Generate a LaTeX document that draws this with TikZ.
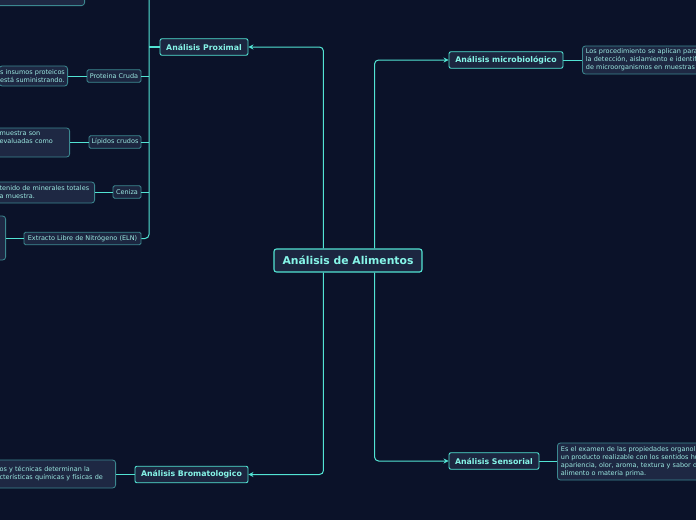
\documentclass[tikz,border=0pt]{standalone}
\usepackage{fontspec}
\setmainfont{DejaVu Sans}
\usetikzlibrary{arrows.meta,calc}
\definecolor{bg}{HTML}{0B1229}
\definecolor{boxfill}{HTML}{1C2640}
\definecolor{descfill}{HTML}{1E2843}
\definecolor{line}{HTML}{52E3D3}
\definecolor{dborder}{HTML}{3C8890}
\definecolor{ttext}{HTML}{86F5E8}
\definecolor{stext}{HTML}{9CE9E2}
\tikzset{
  maintitle/.style={draw=line, line width=1.1pt, fill=boxfill, rounded corners=2.5pt, text=ttext,
    font=\bfseries\fontsize{10.8}{12}\selectfont, minimum height=23pt, inner xsep=3pt, inner ysep=0pt},
  title/.style={draw=line, line width=0.9pt, fill=boxfill, rounded corners=2pt, text=ttext,
    font=\bfseries\fontsize{7.8}{9}\selectfont, minimum height=16.5pt, inner xsep=2pt, inner ysep=0pt},
  small/.style={draw=dborder, line width=0.8pt, fill=boxfill, rounded corners=1.5pt, text=stext,
    font=\fontsize{6.5}{7.5}\selectfont, minimum height=12.5pt, inner xsep=1.5pt, inner ysep=0pt},
  desc/.style={draw=dborder, line width=0.8pt, fill=descfill, rounded corners=3pt, text=stext,
    font=\fontsize{6.5}{8}\selectfont, align=left, inner xsep=3.5pt, inner ysep=2pt},
  conn/.style={draw=line, line width=1pt, rounded corners=4pt},
  arr/.style={conn, -{Stealth[length=5pt,width=5pt]}},
}
\begin{document}
\begin{tikzpicture}[x=1pt,y=-1pt]
\fill[bg] (0,0) rectangle (696,520);
\useasboundingbox (0,0) rectangle (696,520);
\clip (0,0) rectangle (696,520);

% main nodes
\node[maintitle, minimum width=148pt] (root) at (348,260.5) {Análisis de Alimentos};
\node[title, minimum width=88pt] (prox) at (204,47) {Análisis Proximal};
\node[title, minimum width=114pt] (micro) at (506,60) {Análisis microbiológico};
\node[title, minimum width=90pt] (sens) at (494,461) {Análisis Sensorial};
\node[title, minimum width=113pt] (brom) at (191.5,474.5) {Análisis Bromatologico};

% proximal children
\node[small, minimum width=54pt] (prot) at (114,76) {Proteina Cruda};
\node[small, minimum width=52pt] (lip) at (115,142) {Lípidos crudos};
\node[small, minimum width=28pt] (cen) at (127,192) {Ceniza};
\node[small, minimum width=117pt] (eln) at (82.5,238.5) {Extracto Libre de Nitrógeno (ELN)};
\coordinate (busTop) at (149,-10);

% descriptions
\node[desc, anchor=south east, minimum width=110pt, minimum height=20pt] (dtop) at (85,6) {};
\node[desc, anchor=east, text width=66.5pt, inner xsep=1pt, minimum height=20pt] (dprot) at (68,76) {s insumos proteicos\\ está suministrando.};
\node[desc, anchor=east, text width=66.5pt, minimum height=29pt] (dlip) at (70,142.5) {muestra son\\ evaluadas como\\ \strut};
\node[desc, anchor=east, text width=91.5pt, minimum height=21pt] (dcen) at (95,192.5) {tenido de minerales totales\\ a muestra.};
\node[desc, anchor=east, minimum width=30pt, minimum height=44pt] (deln) at (6,238) {};
\node[desc, anchor=east, text width=112.5pt, minimum height=28pt] (dbrom) at (116,474) {os y técnicas determinan la\\ cterísticas químicas y físicas de};
\node[desc, anchor=west, text width=160pt, minimum height=28pt] (dmicro) at (582,60) {Los procedimiento se aplican para\\ la detección, aislamiento e identifi\\ de microorganismos en muestras};
\node[desc, anchor=west, text width=170pt, minimum height=37pt] (dsens) at (557,461.5) {Es el examen de las propiedades organol\\ un producto realizable con los sentidos hu\\ apariencia, olor, aroma, textura y sabor d\\ alimento o materia prima.};

% connectors from root
\draw[arr] ($(root.north west)+(50,0)$) |- (prox.east);
\draw[arr] ($(root.south west)+(50,0)$) |- (brom.east);
\draw[arr] ($(root.north east)+(-48,0)$) |- (micro.west);
\draw[arr] ($(root.south east)+(-48,0)$) |- (sens.west);

% proximal bus
\draw[conn] (busTop) |- (eln.east);
\draw[conn, line width=1.3pt] (prox.west) -- (prox.west -| busTop);
\draw[conn] (prot.east) -- (prot.east -| busTop);
\draw[conn] (lip.east) -- (lip.east -| busTop);
\draw[conn] (cen.east) -- (cen.east -| busTop);

% child to description
\draw[conn] (prot.west) -- (dprot.east);
\draw[conn] (lip.west) -- (lip.west -| dlip.east);
\draw[conn] (cen.west) -- (cen.west -| dcen.east);
\draw[conn] (eln.west) -- (eln.west -| deln.east);
\draw[conn] (brom.west) -- (brom.west -| dbrom.east);
\draw[conn] (micro.east) -- (micro.east -| dmicro.west);
\draw[conn] (sens.east) -- (sens.east -| dsens.west);
\end{tikzpicture}
\end{document}
